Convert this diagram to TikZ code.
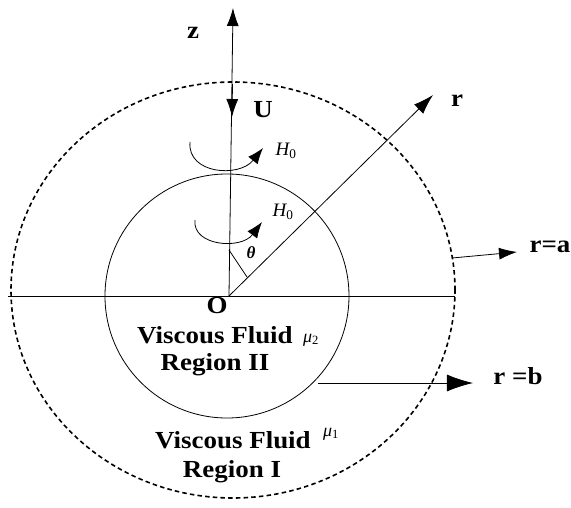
\documentclass[tikz,border=0pt]{standalone}
\usepackage{fontspec}
\setmainfont{Liberation Serif}
\newfontfamily\lblfont[FakeStretch=1.1]{Liberation Serif Bold}
\usepackage{tikz}
\usetikzlibrary{arrows.meta,calc,positioning}
\tikzset{
  axis/.style={line width=0.8pt},
  bold label/.style={font=\lblfont\fontsize{24.5}{27}\selectfont,inner sep=0pt},
  field label/.style={font=\fontsize{19}{22}\selectfont\itshape,inner sep=0pt},
  visc label/.style={font=\fontsize{18}{20}\selectfont\itshape,inner sep=0pt},
  big tip/.style={-{Latex[length=18pt,width=12pt]}},
}
\newcommand{\subup}[1]{\textsubscript{\upshape #1}}
\begin{document}
\begin{tikzpicture}[x=1pt,y=1pt,>=Latex]
\useasboundingbox (-229,-211) rectangle (342,296);
% origin and the two boundaries
\coordinate (O) at (0,0);
\draw[axis] (-221,0) -- (226,0);
\draw[axis] (-2,0) circle (122);
\draw[line width=1.6pt,dash pattern=on 4.5pt off 3.2pt] (4,6) ellipse [x radius=222,y radius=208];
% z axis and the velocity U
\coordinate (ztip) at (4,288);
\draw[axis,big tip] (O) -- (ztip);
\coordinate (Ustart) at (3.5,212);
\coordinate (Utip) at (3,179);
\draw[axis,big tip] (Ustart) -- (Utip);
\node[bold label] (zlab) at (-36,263) {z};
\node[bold label] (Ulab) at (34,186) {U};
% radial direction r and angle theta
\coordinate (rtip) at (204,201);
\draw[axis,-{Latex[length=20pt,width=13pt]}] (O) -- (rtip);
\node[bold label] (rlab) at (228,195) {r};
\coordinate (thA) at (0,46);
\coordinate (thB) at (18,19);
\draw[axis] (thA) -- (thB);
\node[font=\fontsize{17}{19}\selectfont\bfseries\itshape,inner sep=0pt] (thlab) at (22,43) {θ};
% rotating field H0 (outer and inner)
\coordinate (hAs) at (-39,154);
\coordinate (hAe) at (34,148);
\draw[axis,-{Latex[length=16pt,width=12pt]}] (hAs) .. controls (-42,122) and (10,118) .. (hAe);
\node[field label] (HAlab) at (57,145) {H\subup{0}};
\coordinate (hBs) at (-34,76);
\coordinate (hBe) at (33,74);
\draw[axis,-{Latex[length=16pt,width=12pt]}] (hBs) .. controls (-37,50) and (12,46) .. (hBe);
\node[field label] (HBlab) at (54,84) {H\subup{0}};
% boundary labels
\coordinate (aS) at (223,38);
\coordinate (aE) at (288,44);
\draw[axis,big tip] (aS) -- (aE);
\node[bold label] (alab) at (321,49) {r=a};
\coordinate (bS) at (89,-87);
\coordinate (bE) at (244,-87);
\draw[axis,-{Latex[length=26pt,width=17pt]}] (bS) -- (bE);
\node[bold label] (blab) at (289,-80) {r =b};
% regions
\node[bold label] (Olab) at (-12,-10) {O};
\node[bold label] (fluidII) at (-14,-39) {Viscous Fluid};
\node[visc label] (muII) at (82,-44) {μ\subup{2}};
\node[bold label] (regII) at (-14,-69) {Region II};
\node[bold label] (fluidI) at (4,-144) {Viscous Fluid};
\node[visc label] (muI) at (102,-138) {μ\subup{1}};
\node[bold label] (regI) at (3,-176) {Region I};
\end{tikzpicture}
\end{document}
